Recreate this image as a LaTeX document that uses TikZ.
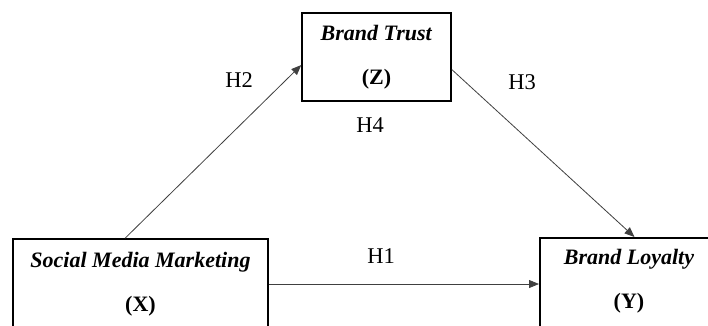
\documentclass[tikz,border=0pt]{standalone}
\usepackage{fontspec}
\setmainfont{Liberation Serif}
\usetikzlibrary{arrows.meta,calc}
\begin{document}
\begin{tikzpicture}[x=1pt,y=-1pt,
  varbox/.style={draw=black,line width=1.6pt,rectangle,inner sep=0pt,align=center,
    font=\fontsize{22}{44}\selectfont},
  hyp/.style={font=\fontsize{22.5}{26}\selectfont,inner sep=0pt},
  link/.style={draw=black!75,line width=0.8pt,-{Triangle[length=10pt,width=8pt]}}]
\clip (0,0) rectangle (708,325);
\useasboundingbox (0,0) rectangle (708,325);
\fill[white] (0,0) rectangle (708,325);
\node[varbox,minimum width=149pt,minimum height=88pt] (Z) at (376.5,57)
  {\textbf{\textit{Brand Trust}}\\\textbf{(Z)}};
\node[varbox,minimum width=255pt,minimum height=90pt] (X) at (140.5,284)
  {\textbf{\textit{Social Media Marketing}}\\\textbf{(X)}};
\node[varbox,minimum width=182pt,minimum height=90pt,anchor=north west] (Yb) at (539,237) {};
\node[align=center,font=\fontsize{22}{44}\selectfont,inner sep=0pt] (Y) at (629,281)
  {\textbf{\textit{Brand Loyalty}}\\\textbf{(Y)}};
\draw[link] ($(X.north west)!0.44!(X.north east)$) -- ($(Z.north west)!0.59!(Z.south west)$);
\draw[link] ($(Z.north east)!0.64!(Z.south east)$) -- ($(Yb.north west)!0.52!(Yb.north east)$);
\draw[link] (X.east) -- (X.east -| Yb.west);
\node[hyp] (h1) at (381,256) {H1};
\node[hyp] (h2) at (239,80) {H2};
\node[hyp] (h3) at (522,82) {H3};
\node[hyp] (h4) at (370,125) {H4};
\end{tikzpicture}
\end{document}
